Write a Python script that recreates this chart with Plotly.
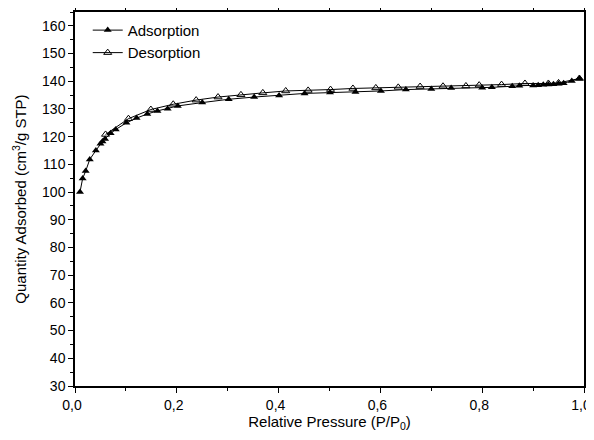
import plotly.graph_objects as go

ads_x = [0.0098, 0.015, 0.021, 0.029, 0.041, 0.050, 0.054, 0.059, 0.070, 0.080,
         0.101, 0.121, 0.142, 0.162, 0.182, 0.202, 0.250, 0.302, 0.352, 0.401,
         0.451, 0.501, 0.551, 0.601, 0.650, 0.700, 0.739, 0.800, 0.819, 0.859,
         0.873, 0.900, 0.910, 0.920, 0.930, 0.940, 0.950, 0.960, 0.976, 0.991]
ads_y = [100.0, 104.9, 107.6, 111.8, 115.0, 117.4, 118.3, 119.2, 121.2, 122.6,
         125.0, 126.7, 128.2, 129.3, 130.1, 131.1, 132.3, 133.5, 134.3, 134.9,
         135.6, 135.9, 136.1, 136.5, 137.0, 137.2, 137.6, 137.7, 137.8, 138.2,
         138.4, 138.5, 138.6, 138.7, 138.8, 138.9, 139.1, 139.3, 140.1, 141.0]

des_x = [0.991, 0.950, 0.930, 0.884, 0.838, 0.794, 0.768, 0.723, 0.678, 0.635,
         0.591, 0.546, 0.502, 0.458, 0.414, 0.369, 0.326, 0.281, 0.238, 0.193,
         0.149, 0.105, 0.060]
des_y = [141.0, 139.4, 139.2, 139.2, 138.8, 138.6, 138.3, 138.2, 138.1, 137.8,
         137.6, 137.4, 137.0, 136.7, 136.5, 135.8, 135.1, 134.3, 133.2, 131.7,
         129.8, 126.5, 120.8]

x_tickvals = [0.0, 0.2, 0.4, 0.6, 0.8, 1.0]
x_ticktext = ["0,0", "0,2", "0,4", "0,6", "0,8", "1,0"]
y_tickvals = list(range(30, 161, 10))

FONT = "Liberation Sans, Arial, sans-serif"

fig = go.Figure()
fig.add_trace(go.Scatter(x=ads_x, y=ads_y, mode="lines+markers", name="Adsorption",
                         line=dict(color="black", width=1),
                         marker=dict(symbol="triangle-up", size=7, color="black")))
fig.add_trace(go.Scatter(x=des_x, y=des_y, mode="lines+markers", name="Desorption",
                         line=dict(color="black", width=1),
                         marker=dict(symbol="triangle-up-open", size=7, color="black",
                                     line=dict(width=1))))

axis_common = dict(showgrid=False, zeroline=False, showline=True, linecolor="black",
                   linewidth=1.5, ticks="outside", tickcolor="black", mirror="allticks",
                   tickfont=dict(size=14, color="black", family=FONT))

fig.update_xaxes(range=[0, 1.0], tickvals=x_tickvals, ticktext=x_ticktext, ticklen=5,
                 ticklabelshift=-3,
                 minor=dict(dtick=0.1, ticks="outside", ticklen=3, tickcolor="black"),
                 title=dict(text="Relative Pressure (P/P<sub>0</sub>)",
                            font=dict(size=15, family=FONT, color="black"), standoff=7),
                 **axis_common)
fig.update_yaxes(range=[30, 165], tickvals=y_tickvals, ticklen=5,
                 minor=dict(dtick=5, ticks="outside", ticklen=3, tickcolor="black"),
                 title=dict(text="Quantity Adsorbed (cm<sup>3</sup>/g STP)",
                            font=dict(size=15, family=FONT, color="black"), standoff=12),
                 **axis_common)

fig.update_layout(width=586, height=424, plot_bgcolor="white", paper_bgcolor="white",
                  margin=dict(l=67, r=10, t=4, b=46, autoexpand=False),
                  font=dict(family=FONT, color="black"),
                  legend=dict(x=0.025, y=0.995, xanchor="left", yanchor="top",
                              bgcolor="rgba(0,0,0,0)", font=dict(size=15, family=FONT),
                              tracegroupgap=0, itemwidth=30))

fig.write_html("out.html")
